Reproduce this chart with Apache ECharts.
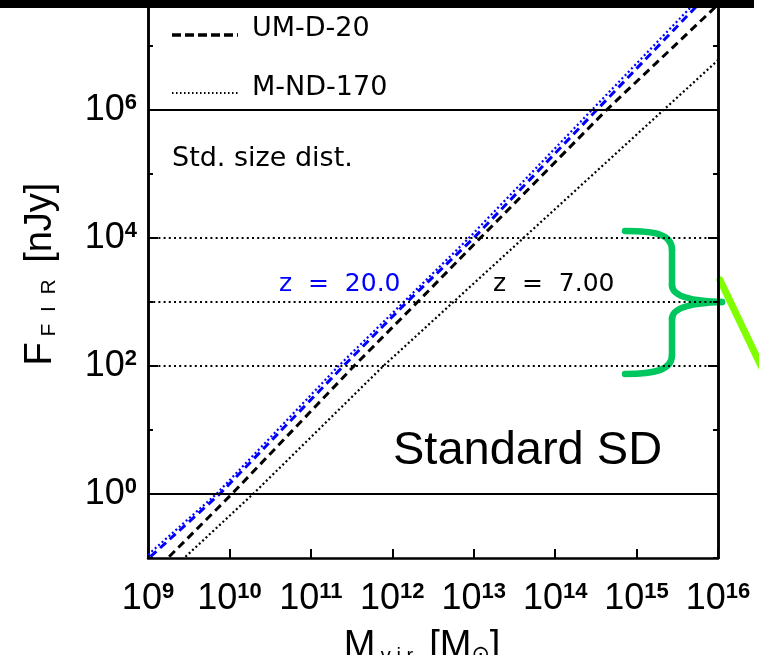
<!DOCTYPE html>
<html><head><meta charset="utf-8">
<script src="https://cdn.jsdelivr.net/npm/echarts@6/dist/echarts.min.js"></script>
<style>html,body{margin:0;padding:0;background:#fff}#c{width:759px;height:655px}</style>
</head><body><div id="c"></div>
<script>
// log10 of halo mass M_vir [Msun] and log10 of far-IR flux [nJy]
const logM_z20_MND = [9.00, 9.84, 11.34, 12.14, 12.94, 14.45, 15.75];
const logF_z20_MND = [-0.95, 0.00, 2.00, 3.00, 4.00, 6.00, 7.72];
const logM_z20_UMD = [9.03, 9.88, 11.40, 12.18, 13.00, 14.51, 15.81];
const logF_z20_UMD = [-0.98, 0.00, 2.00, 3.00, 4.00, 6.00, 7.72];
const logM_z7_UMD = [9.26, 10.03, 11.53, 12.31, 13.08, 14.63, 15.86, 16.00];
const logF_z7_UMD = [-0.98, 0.00, 2.00, 3.00, 4.00, 6.00, 7.48, 7.65];
const logM_z7_MND = [9.46, 10.29, 11.89, 12.75, 15.33, 16.00];
const logF_z7_MND = [-0.98, 0.00, 2.00, 3.00, 6.00, 6.78];

const xTickExp = [9, 10, 11, 12, 13, 14, 15, 16];
const yMajorExp = [0, 2, 4, 6];
const yMinorExp = [-1, 1, 3, 5, 7];
const solidRefLines = [0, 6];
const dottedRefLines = [2, 3, 4];
const legendNames = ['UM-D-20', 'M-ND-170'];

const zip = (xs, ys) => xs.map((x, i) => [x, ys[i]]);
const BLUE = '#0000ff';
const dotted = [2, 2.6];
const dashed = [8, 5];

const powRich = {
  b: {fontSize: 36, fontFamily: 'Liberation Sans', color: '#000', lineHeight: 36, verticalAlign: 'bottom'},
  s: {fontSize: 22, fontFamily: 'Liberation Sans', fontWeight: 'bold', color: '#000', lineHeight: 22, padding: [0, 0, 14, 0], verticalAlign: 'bottom'}
};
const powFmt = v => '{b|10}{s|' + Math.round(v) + '}';

function yAxis(pos, len, ticks, labels) {
  const ax = {
    type: 'value', position: pos, min: -1, max: 7.72, interval: 1,
    splitLine: {show: false},
    axisLine: {show: true, onZero: false, lineStyle: {color: '#000', width: 2.5}},
    axisTick: {show: true, inside: true, length: len, lineStyle: {color: '#000', width: 2}, customValues: ticks},
    axisLabel: {show: false}
  };
  if (labels) {
    ax.axisLabel = {show: true, margin: 11, customValues: labels, formatter: powFmt, rich: powRich};
    ax.name = '{a|F}{sub| F  I  R }{a| [nJy]}';
    ax.nameLocation = 'middle';
    ax.nameGap = 88;
    ax.nameTextStyle = {padding: [0, 0, 0, 10], rich: {
      a: {fontSize: 38, fontFamily: 'Liberation Sans', color: '#000', lineHeight: 40, verticalAlign: 'bottom'},
      sub: {fontSize: 21, fontFamily: 'Liberation Sans', color: '#000', lineHeight: 21, padding: [19, 0, 0, 0], verticalAlign: 'bottom'}
    }};
  }
  return ax;
}

const GREEN = '#00c65e';
function bez(x1, y1, cx1, cy1, cx2, cy2, x2, y2) {
  return {type: 'bezierCurve', shape: {x1, y1, cpx1: cx1, cpy1: cy1, cpx2: cx2, cpy2: cy2, x2, y2},
          style: {stroke: GREEN, lineWidth: 6.5, lineCap: 'round', fill: null}, silent: true};
}
function seg(x1, y1, x2, y2, color, w, dash) {
  return {type: 'line', shape: {x1, y1, x2, y2},
          style: {stroke: color, lineWidth: w, lineCap: dash ? 'butt' : 'round', lineDash: dash || null}, silent: true};
}
function txt(x, y, text, font, color) {
  return {type: 'text', x, y, silent: true,
          style: {text, font, fill: color, textVerticalAlign: 'middle', verticalAlign: 'middle'}};
}

const chart = echarts.init(document.getElementById('c'), null, {renderer: 'canvas'});
chart.setOption({
  animation: false,
  backgroundColor: '#fff',
  grid: {left: 148, right: 41, top: 0, bottom: 97, containLabel: false, outerBoundsMode: 'none'},
  xAxis: {
    type: 'value', min: 9, max: 16, interval: 1,
    splitLine: {show: false},
    axisLine: {show: true, onZero: false, lineStyle: {color: '#000', width: 2.5}},
    axisTick: {show: true, inside: true, length: 9, lineStyle: {color: '#000', width: 2}},
    axisLabel: {margin: 23, formatter: powFmt, rich: powRich, showMinLabel: true, showMaxLabel: true},
    name: '{a|M}{sub| v i r }{a| [M}{sym|⊙}{a|]}',
    nameLocation: 'middle', nameGap: 68,
    nameTextStyle: {padding: [0, 22, 0, 0], rich: {
      a: {fontSize: 38, fontFamily: 'Liberation Sans', color: '#000', lineHeight: 40, verticalAlign: 'bottom'},
      sub: {fontSize: 20, fontFamily: 'Liberation Sans', color: '#000', lineHeight: 20, padding: [20, 0, 0, 0], verticalAlign: 'bottom'},
      sym: {fontSize: 22, fontFamily: 'DejaVu Sans', color: '#000', lineHeight: 22, padding: [18, 0, 0, 0], verticalAlign: 'bottom'}
    }}
  },
  yAxis: [
    yAxis('left', 10, yMajorExp, yMajorExp),
    yAxis('left', 5, yMinorExp, null),
    yAxis('right', 10, yMajorExp, null),
    yAxis('right', 5, yMinorExp, null)
  ],
  series: [
    {name: 'z = 7.00 M-ND-170', type: 'line', symbol: 'none', showSymbol: false, silent: true,
     data: zip(logM_z7_MND, logF_z7_MND), lineStyle: {color: '#000', width: 2.2, type: dotted},
     markLine: {silent: true, symbol: 'none', label: {show: false},
       data: solidRefLines.map(v => ({yAxis: v, lineStyle: {color: '#000', width: 2, type: 'solid'}}))
         .concat(dottedRefLines.map(v => ({yAxis: v, lineStyle: {color: '#000', width: 2, type: [2, 3.2]}})))}},
    {name: 'z = 7.00 UM-D-20', type: 'line', symbol: 'none', showSymbol: false, silent: true,
     data: zip(logM_z7_UMD, logF_z7_UMD), lineStyle: {color: '#000', width: 3, type: dashed}},
    {name: 'z = 20.0 UM-D-20', type: 'line', symbol: 'none', showSymbol: false, silent: true,
     data: zip(logM_z20_UMD, logF_z20_UMD), lineStyle: {color: BLUE, width: 3, type: dashed}},
    {name: 'z = 20.0 M-ND-170', type: 'line', symbol: 'none', showSymbol: false, silent: true,
     data: zip(logM_z20_MND, logF_z20_MND), lineStyle: {color: BLUE, width: 2.2, type: dotted}}
  ],
  graphic: [
    seg(172, 35, 238, 35, '#000', 3.5, [9, 4]),
    txt(252, 29, legendNames[0], '27px "DejaVu Sans"', '#000'),
    seg(172, 93, 238, 93, '#000', 2, [1.5, 2.5]),
    txt(252, 88, legendNames[1], '27px "DejaVu Sans"', '#000'),
    txt(172, 159, 'Std. size dist.', '27px "DejaVu Sans"', '#000'),
    txt(279, 284, 'z  =  20.0', '25px "DejaVu Sans"', BLUE),
    txt(493, 284, 'z  =  7.00', '25px "DejaVu Sans"', '#000'),
    txt(393, 451, 'Standard SD', '47px "Liberation Sans"', '#000'),
    bez(625, 231, 655, 231, 672, 234, 672, 250),
    seg(672, 250, 672, 285, GREEN, 6.5),
    bez(672, 285, 672, 296, 690, 301, 722, 302),
    bez(722, 302, 690, 303, 672, 308, 672, 319),
    seg(672, 319, 672, 355, GREEN, 6.5),
    bez(672, 355, 672, 370, 655, 374, 625, 374),
    seg(720, 280, 762, 368, '#7fff00', 7),
    {type: 'rect', shape: {x: 0, y: 0, width: 754, height: 8}, style: {fill: '#000'}, z: 100}
  ]
});
</script></body></html>
